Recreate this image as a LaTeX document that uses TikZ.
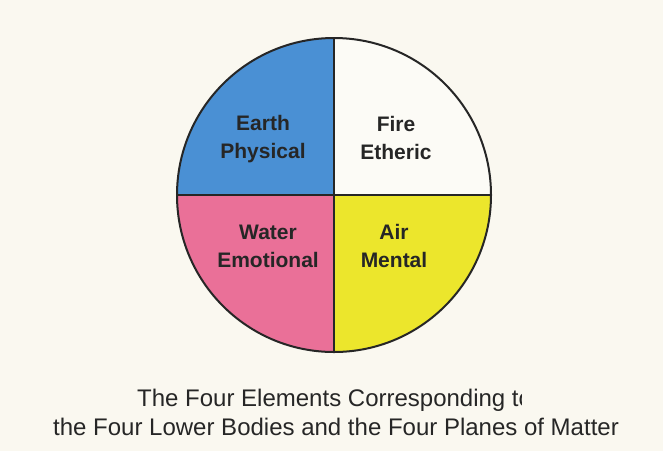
\documentclass[tikz,border=0pt]{standalone}
\usepackage{fontspec}
\setmainfont{Liberation Sans}

\definecolor{paper}{RGB}{250,248,240}
\definecolor{earthblue}{RGB}{74,144,212}
\definecolor{firewhite}{RGB}{252,251,246}
\definecolor{waterpink}{RGB}{234,112,152}
\definecolor{airyellow}{RGB}{236,230,44}
\definecolor{ink}{RGB}{38,38,38}

\tikzset{
  quadlabel/.style={font=\bfseries\fontsize{21}{28}\selectfont, text=ink, align=center, inner sep=0pt},
  captionline/.style={font=\fontsize{24}{29}\selectfont, text=ink, inner sep=0pt, anchor=base west}
}

\begin{document}
\begin{tikzpicture}[x=1pt,y=1pt]
\useasboundingbox (0,0) rectangle (663,-451);
\fill[paper] (0,0) rectangle (663,-451);

% Kreis
\node[circle, minimum size=314pt, inner sep=0pt] (disc) at (334,-195) {};

% Viertel
\fill[earthblue] (disc.center) -- (disc.west) arc[start angle=180, end angle=90, radius=157pt] -- cycle;
\fill[firewhite] (disc.center) -- (disc.north) arc[start angle=90, end angle=0, radius=157pt] -- cycle;
\fill[airyellow] (disc.center) -- (disc.east) arc[start angle=0, end angle=-90, radius=157pt] -- cycle;
\fill[waterpink] (disc.center) -- (disc.south) arc[start angle=270, end angle=180, radius=157pt] -- cycle;

\draw[ink, line width=1.4pt] (disc.west) -- (disc.east);
\draw[ink, line width=1.4pt] (disc.north) -- (disc.south);
\draw[ink, line width=2pt] (disc.center) circle[radius=157pt];

% Beschriftung
\node[quadlabel] (earth) at (263,-139) {Earth\\Physical};
\node[quadlabel] (fire) at (396,-138) {Fire\\Etheric};
\node[quadlabel] (water) at (268,-246) {Water\\Emotional};
\node[quadlabel] (air) at (394,-246) {Air\\Mental};

% Unterschrift
\begin{scope}
\clip (0,-380) rectangle (521,-414);
\node[captionline] (captop) at (137,-406) {The Four Elements Corresponding to};
\end{scope}
\node[captionline] (capbot) at (53,-435) {the Four Lower Bodies and the Four Planes of Matter};

\end{tikzpicture}
\end{document}
